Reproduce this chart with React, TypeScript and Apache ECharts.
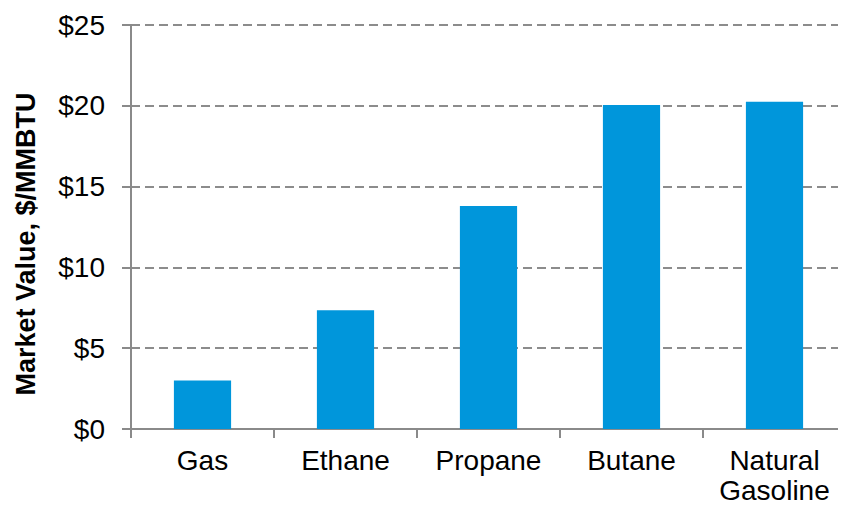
import React, { useEffect, useRef } from "react";
import * as echarts from "echarts";

// Market value of each product stream, $/MMBTU
const categories: string[] = ["Gas", "Ethane", "Propane", "Butane", "Natural\nGasoline"];
const marketValues: number[] = [3.0, 7.35, 13.8, 20.05, 20.25];
const yAxisTitle = "Market Value, $/MMBTU";

const FONT = "'Liberation Sans', Arial, Helvetica, sans-serif";
const BAR_COLOR = "#0096DB";
const AXIS_COLOR = "#8a8a8a";

export default function App() {
  const ref = useRef<HTMLDivElement>(null);

  useEffect(() => {
    if (!ref.current) return;
    const chart = echarts.init(ref.current, undefined, { renderer: "svg" });
    chart.setOption({
      animation: false,
      backgroundColor: "#ffffff",
      grid: { left: 131, right: 0, top: 25, bottom: 79, containLabel: false },
      xAxis: {
        type: "category",
        data: categories,
        axisLine: { show: true, lineStyle: { color: AXIS_COLOR, width: 2 } },
        axisTick: { show: true, interval: 0, length: 9, lineStyle: { color: AXIS_COLOR, width: 2 } },
        axisLabel: {
          interval: 0,
          hideOverlap: false,
          color: "#000",
          fontFamily: FONT,
          fontSize: 28,
          lineHeight: 30,
          margin: 16,
        },
        splitLine: { show: false },
      },
      yAxis: {
        type: "value",
        min: 0,
        max: 25,
        interval: 5,
        axisLine: { show: true, lineStyle: { color: AXIS_COLOR, width: 2 } },
        axisTick: { show: true, length: 9, lineStyle: { color: AXIS_COLOR, width: 2 } },
        axisLabel: {
          color: "#000",
          fontFamily: FONT,
          fontSize: 28,
          margin: 26,
          formatter: (v: number) => "$" + v,
        },
        splitLine: {
          show: true,
          lineStyle: { color: "#8c8c8c", width: 2, type: [9, 5] },
        },
      },
      graphic: [
        {
          type: "text",
          x: 26,
          y: 244,
          rotation: Math.PI / 2,
          style: {
            text: yAxisTitle,
            fill: "#000",
            font: `bold 27px ${FONT}`,
            align: "center",
            verticalAlign: "middle",
          },
        },
      ],
      series: [
        {
          type: "bar",
          data: marketValues,
          barWidth: "40%",
          itemStyle: { color: BAR_COLOR },
        },
      ],
    });
    return () => chart.dispose();
  }, []);

  return <div ref={ref} style={{ width: 846, height: 508, margin: -8 }} />;
}
